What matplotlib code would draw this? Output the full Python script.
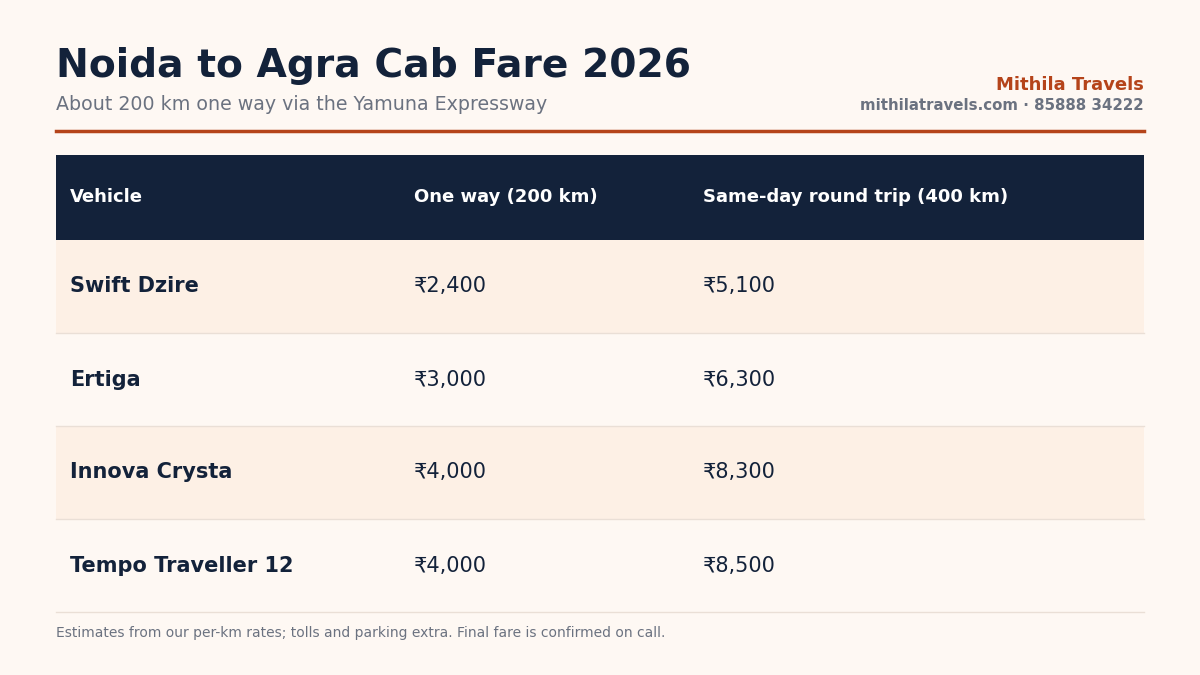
import matplotlib.pyplot as plt
from matplotlib.patches import Rectangle

plt.rcParams["font.family"] = ["DejaVu Sans"]

# ---------------------------------------------------------------------------
# Data
# ---------------------------------------------------------------------------
TITLE = "Noida to Agra Cab Fare 2026"
SUBTITLE = "About 200 km one way via the Yamuna Expressway"
BRAND = "Mithila Travels"
CONTACT = "mithilatravels.com · 85888 34222"
FOOTNOTE = "Estimates from our per-km rates; tolls and parking extra. Final fare is confirmed on call."

columns = ["Vehicle", "One way (200 km)", "Same-day round trip (400 km)"]
vehicles = ["Swift Dzire", "Ertiga", "Innova Crysta", "Tempo Traveller 12"]
one_way = [2400, 3000, 4000, 4000]
round_trip = [5100, 6300, 8300, 8500]

BG = "#FEF8F3"
NAVY = "#13223A"
ACCENT = "#B5441A"
ALT = "#FDF0E5"
GREY = "#6B7280"
LINE = "#EADFD6"

fig = plt.figure(figsize=(12, 6.75), dpi=100, facecolor=BG)
ax = fig.add_axes([0, 0, 1, 1])
ax.set_xlim(0, 1200)
ax.set_ylim(675, 0)
ax.axis("off")

left, right = 56, 1144
col_x = [70, 414, 703]

ax.text(left, 66, TITLE, fontsize=28.3, fontweight="bold", color=NAVY, va="center")
ax.text(left, 105, SUBTITLE, fontsize=13.7, color=GREY, va="center")
ax.text(right, 85, BRAND, fontsize=13, fontweight="bold", color=ACCENT, va="center", ha="right")
ax.text(right, 105, CONTACT, fontsize=10.8, fontweight="bold", color=GREY, va="center", ha="right")
ax.plot([left, right], [131, 131], color=ACCENT, lw=2.5)

# header
head_top, head_h = 155, 85
ax.add_patch(Rectangle((left, head_top), right - left, head_h, color=NAVY, lw=0))
for x, c in zip(col_x, columns):
    ax.text(x, head_top + head_h / 2, c, fontsize=13, fontweight="bold", color="white", va="center")

# rows
row_h = 93
for i, (v, a, b) in enumerate(zip(vehicles, one_way, round_trip)):
    top = head_top + head_h + i * row_h
    if i % 2 == 0:
        ax.add_patch(Rectangle((left, top), right - left, row_h, color=ALT, lw=0))
    ax.plot([left, right], [top + row_h, top + row_h], color=LINE, lw=1)
    yc = top + row_h / 2
    ax.text(col_x[0], yc, v, fontsize=15, fontweight="bold", color=NAVY, va="center")
    ax.text(col_x[1], yc, f"₹{a:,}", fontsize=15, color=NAVY, va="center")
    ax.text(col_x[2], yc, f"₹{b:,}", fontsize=15, color=NAVY, va="center")

ax.text(left, 633, FOOTNOTE, fontsize=10, color=GREY, va="center")

fig.savefig("out.png", dpi=100, facecolor=BG)
